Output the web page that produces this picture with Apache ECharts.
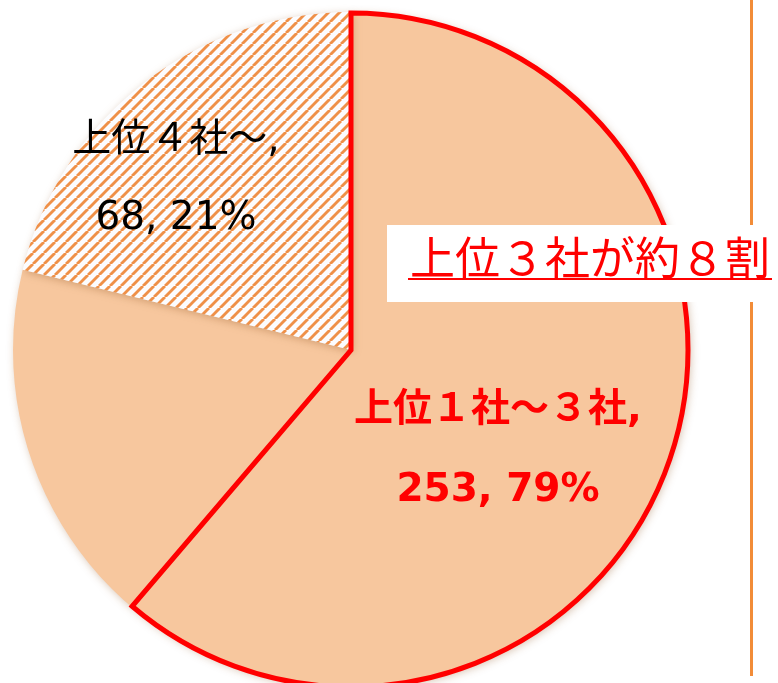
<!DOCTYPE html>
<html>
<head>
<meta charset="utf-8">
<script src="https://cdn.jsdelivr.net/npm/echarts@6/dist/echarts.min.js"></script>
<style>
html,body{margin:0;padding:0;background:#fff;}
#c{width:778px;height:683px;}
</style>
</head>
<body>
<div id="c"></div>
<script>
// ---- data ----
var categories = ['上位１社～３社', '上位４社～'];
var values = [253, 68];
// share of the circle outlined in red (annotation), start at 12 o'clock
var outlineShare = [61.25, 38.75];
var calloutText = '上位３社が約８割';

// ---- hatch pattern ----
function makeHatch() {
  var s = 11;
  var cv = document.createElement('canvas');
  cv.width = s; cv.height = s;
  var ctx = cv.getContext('2d');
  ctx.fillStyle = '#FCFCFE';
  ctx.fillRect(0, 0, s, s);
  ctx.strokeStyle = '#EF9048';
  ctx.lineWidth = 2.9;
  [-s, 0, s].forEach(function (k) {
    ctx.beginPath();
    ctx.moveTo(k, s);
    ctx.lineTo(k + s, 0);
    ctx.stroke();
  });
  return cv;
}

var FONT = "'DejaVu Sans', 'Noto Sans CJK JP', sans-serif";
var chart = echarts.init(document.getElementById('c'), null, {renderer: 'canvas'});

var mainData = categories.map(function (n, i) {
  var d = {name: n, value: values[i]};
  if (i === 0) {
    d.itemStyle = {color: '#F7C79E'};
    d.label = {color: '#FF0000', fontWeight: 'bold', fontSize: 39, lineHeight: 80};
  } else {
    d.itemStyle = {color: {image: makeHatch(), repeat: 'repeat'}};
    d.label = {color: '#000000', fontWeight: 'normal', fontSize: 39, lineHeight: 78};
  }
  return d;
});

var labelPos = [[498, 451], [176, 180]];

chart.setOption({
  animation: false,
  backgroundColor: '#ffffff',
  series: [
    {
      type: 'pie',
      center: [351, 350],
      radius: [0, 338],
      startAngle: 90,
      clockwise: true,
      percentPrecision: 0,
      silent: true,
      itemStyle: {
        borderWidth: 0,
        shadowBlur: 8,
        shadowColor: 'rgba(140,80,30,0.35)',
        shadowOffsetX: 2,
        shadowOffsetY: 2
      },
      label: {
        show: true,
        position: 'inside',
        fontFamily: FONT,
        formatter: '{b},\n{c}, {d}%'
      },
      labelLine: {show: false},
      labelLayout: function (p) {
        return {x: labelPos[p.dataIndex][0], y: labelPos[p.dataIndex][1], align: 'center', verticalAlign: 'middle'};
      },
      data: mainData,
      z: 2
    },
    {
      type: 'pie',
      center: [351, 350],
      radius: [0, 337],
      startAngle: 90,
      clockwise: true,
      silent: true,
      label: {show: false},
      labelLine: {show: false},
      data: [
        {name: 'outline', value: outlineShare[0], itemStyle: {color: 'rgba(0,0,0,0)', borderColor: '#FF0000', borderWidth: 5, borderJoin: 'miter'}},
        {name: 'rest', value: outlineShare[1], itemStyle: {color: 'rgba(0,0,0,0)', borderWidth: 0}}
      ],
      z: 3
    }
  ],
  graphic: [
    {type: 'line', z: 100, shape: {x1: 751.5, y1: 0, x2: 751.5, y2: 676}, style: {stroke: '#F28C38', lineWidth: 3}},
    {type: 'rect', z: 101, shape: {x: 387, y: 225, width: 400, height: 77}, style: {fill: '#ffffff'}},
    {type: 'text', z: 102, x: 590, y: 258, style: {text: calloutText, fill: '#FF0000', font: "normal 45px 'Noto Sans CJK JP', sans-serif", align: 'center', verticalAlign: 'middle'}},
    {type: 'line', z: 102, shape: {x1: 408, y1: 279, x2: 772, y2: 279}, style: {stroke: '#FF0000', lineWidth: 2}}
  ]
});
</script>
</body>
</html>
